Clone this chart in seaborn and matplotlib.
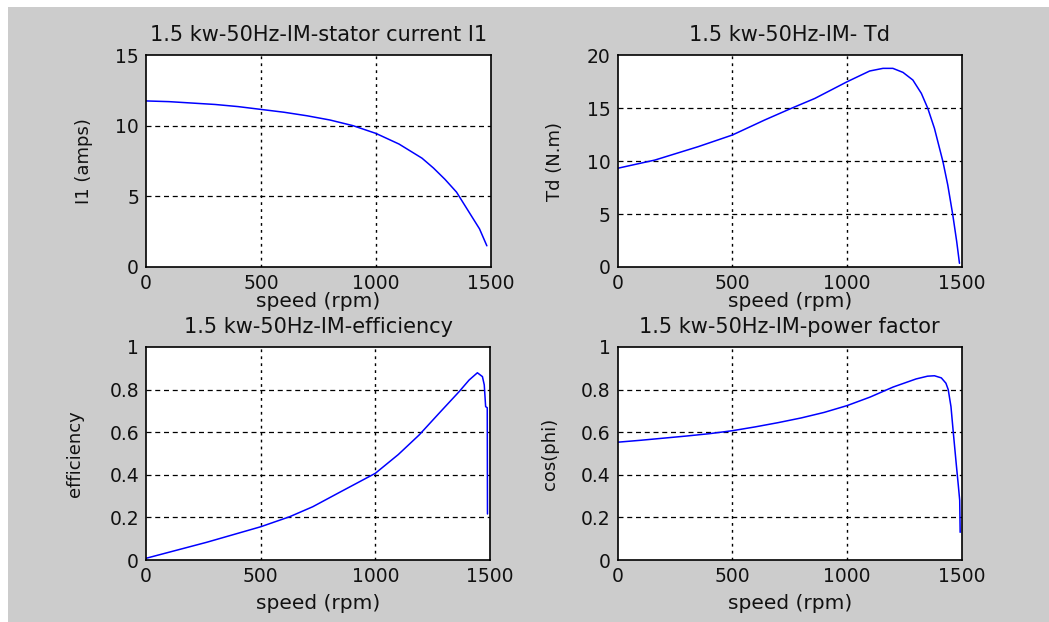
import matplotlib
matplotlib.use("Agg")
import matplotlib.pyplot as plt
import seaborn as sns
import pandas as pd

# stator current I1 (amps) vs speed
speed_i1 = [0, 100, 200, 300, 400, 500, 600, 700, 800, 900, 1000, 1100, 1200,
            1250, 1300, 1350, 1400, 1450, 1482]
current_i1 = [11.75, 11.7, 11.6, 11.5, 11.35, 11.15, 10.95, 10.7, 10.4, 10.0,
              9.45, 8.7, 7.7, 7.0, 6.2, 5.3, 4.0, 2.7, 1.5]

# developed torque Td (N.m) vs speed
speed_td = [0, 163, 351, 500, 641, 757, 859, 1000, 1098, 1156, 1199, 1243,
            1286, 1323, 1351, 1380, 1417, 1438, 1460, 1477, 1489]
torque_td = [9.31, 10.09, 11.35, 12.45, 13.87, 14.97, 15.9, 17.48, 18.49, 18.74,
             18.74, 18.36, 17.64, 16.38, 14.97, 13.08, 9.94, 7.74, 4.9, 2.39, 0.35]

# efficiency vs speed
speed_eff = [0, 264, 500, 626, 727, 843, 1000, 1100, 1191, 1278, 1365, 1409,
             1445, 1467, 1475, 1481, 1488, 1489]
efficiency = [0.008, 0.083, 0.156, 0.203, 0.25, 0.317, 0.407, 0.495, 0.587,
              0.689, 0.79, 0.845, 0.879, 0.861, 0.822, 0.72, 0.715, 0.216]

# power factor vs speed
speed_pf = [0, 100, 200, 300, 400, 500, 600, 700, 800, 900, 1000, 1100, 1200,
            1300, 1350, 1380, 1410, 1430, 1440, 1452, 1462, 1475, 1484, 1490, 1492]
power_factor = [0.553, 0.562, 0.572, 0.582, 0.593, 0.607, 0.625, 0.645, 0.667,
                0.693, 0.725, 0.765, 0.812, 0.85, 0.863, 0.865, 0.855, 0.83,
                0.80, 0.72, 0.60, 0.45, 0.35, 0.28, 0.13]

titles = ["1.5 kw-50Hz-IM-stator current I1", "1.5 kw-50Hz-IM- Td",
          "1.5 kw-50Hz-IM-efficiency", "1.5 kw-50Hz-IM-power factor"]
ylabels = ["I1 (amps)", "Td (N.m)", "efficiency", "cos(phi)"]
x_ticks = [0, 500, 1000, 1500]
y_ticks = [[0, 5, 10, 15], [0, 5, 10, 15, 20],
           [0, 0.2, 0.4, 0.6, 0.8, 1], [0, 0.2, 0.4, 0.6, 0.8, 1]]
y_ticklabels = [["0", "5", "10", "15"], ["0", "5", "10", "15", "20"],
                ["0", "0.2", "0.4", "0.6", "0.8", "1"],
                ["0", "0.2", "0.4", "0.6", "0.8", "1"]]
y_limits = [(0, 15), (0, 20), (0, 1), (0, 1)]

sns.set_style("white")
plt.rcParams['font.family'] = ['DejaVu Sans']
text_col = "#111111"

W, H = 1049, 622
fig = plt.figure(figsize=(W / 100, H / 100), dpi=100)
fig.patch.set_facecolor("white")
fig.patches.append(plt.Rectangle((8 / W, 0), 1, (H - 7) / H, transform=fig.transFigure,
                                 facecolor="#cccccc", edgecolor="none", zorder=-10))

# axes boxes in pixels: left, top, right, bottom
boxes = [(146, 55, 491, 267), (617.5, 55, 962, 267),
         (146, 347, 490, 560), (617.5, 347, 962, 560)]
ylab_dist = [53, 54, 62, 59]
xlab_dist = [25, 25, 34, 34]

series = [(speed_i1, current_i1), (speed_td, torque_td),
          (speed_eff, efficiency), (speed_pf, power_factor)]

for i, (l, t, r, b) in enumerate(boxes):
    ax = fig.add_axes([l / W, (H - b) / H, (r - l) / W, (b - t) / H])
    ax.set_facecolor("white")
    xs, ys = series[i]
    df = pd.DataFrame({"speed": xs, "value": ys})
    sns.lineplot(data=df, x="speed", y="value", ax=ax, color="#0000ff", linewidth=1.1)
    ax.set_xlim(0, 1500)
    ax.set_ylim(*y_limits[i])
    ax.set_xticks(x_ticks)
    ax.set_xticklabels([str(v) for v in x_ticks])
    ax.set_yticks(y_ticks[i])
    ax.set_yticklabels(y_ticklabels[i])
    ax.tick_params(direction="in", length=4, width=0.8, colors=text_col,
                   labelsize=13.5, pad=5)
    for v in x_ticks[1:-1]:
        ax.axvline(v, color="black", linewidth=1.0, linestyle=(0, (2, 3)), zorder=1)
    for v in y_ticks[i][1:-1]:
        ax.axhline(v, color="black", linewidth=0.9, linestyle=(0, (4, 3)), zorder=1)
    for s in ax.spines.values():
        s.set_color("black")
        s.set_linewidth(1.2)
    ax.set_title(titles[i], fontsize=15, pad=10, color=text_col)
    ax.set_xlabel("speed (rpm)", fontsize=14.5, color=text_col)
    ax.set_ylabel(ylabels[i], fontsize=13, color=text_col)
    ax.xaxis.set_label_coords(0.5, -xlab_dist[i] / (b - t))
    ax.yaxis.set_label_coords(-ylab_dist[i] / (r - l), 0.5)

fig.savefig("out.png", dpi=100)
